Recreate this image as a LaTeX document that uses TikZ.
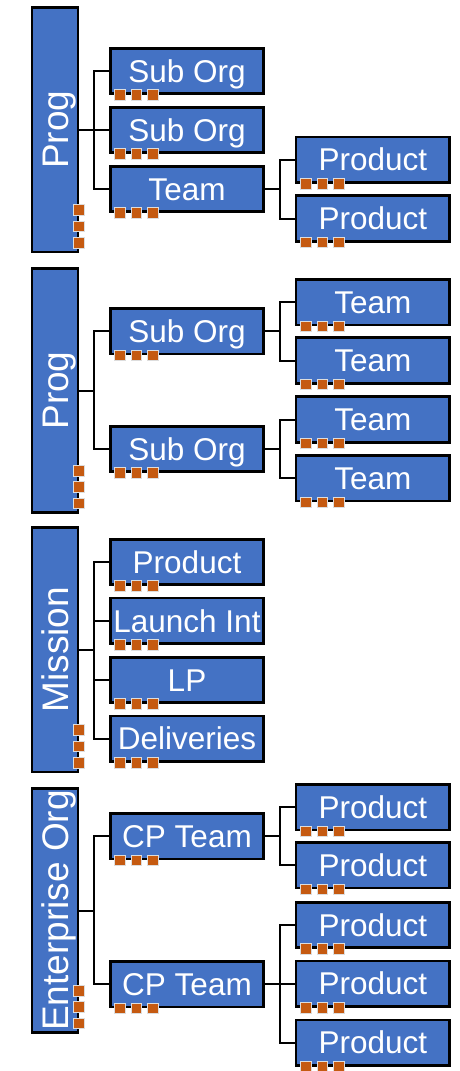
\documentclass[tikz,border=0pt]{standalone}
\usepackage{fontspec}
\setmainfont{Liberation Sans}
\usepackage{xcolor}
\definecolor{OrgBlue}{HTML}{4472C4}
\definecolor{TabOrange}{HTML}{C55A11}
\definecolor{TabEdge}{HTML}{DDDDDD}
\usepackage{tikz}
\usetikzlibrary{calc}

\begin{document}
\begin{tikzpicture}[x=1pt,y=-1pt,
	unit/.style={draw=black,line width=2.6pt,fill=OrgBlue,text=white,inner sep=0pt,minimum width=153.5pt,minimum height=45.5pt,font=\fontsize{31.5}{31.5}\selectfont,text height=22.5pt,text depth=0pt},
	head/.style={unit,rotate=90,minimum width=244.5pt,minimum height=46pt,font=\fontsize{37}{37}\selectfont,text height=26.5pt},
	tab/.style={draw=TabEdge,line width=1pt,fill=TabOrange,minimum size=10.5pt,inner sep=0pt},
	link/.style={line width=2pt,black}]
		\def\colA{187}   % first column
		\def\colB{372.8} % second column
		\def\tabs#1{\foreach \k in {0,1,2} \node[tab] (#1-t\k) at ($(#1.south west)+(11+16.5*\k,0)$) {};}
		\def\sidetabs#1{\foreach \k in {0,1,2} \node[tab] (#1-t\k) at ($(#1.south west)+(-0.5,-10.5-16.4*\k)$) {};}
		
		\useasboundingbox (0,0) rectangle (460,1071);
		
		% Prog
		\node[head] (prog1) at (55,129.7) {Prog};
		\node[unit] (sub1) at (\colA,71) {Sub Org};
		\node[unit] (sub2) at (\colA,130) {Sub Org};
		\node[unit] (team1) at (\colA,189) {Team};
		\node[unit] (prod1) at (\colB,159.7) {Product};
		\node[unit] (prod2) at (\colB,218.5) {Product};
		
		% Prog
		\node[head] (prog2) at (55,390.5) {Prog};
		\node[unit] (sub3) at (\colA,331.3) {Sub Org};
		\node[unit] (sub4) at (\colA,449) {Sub Org};
		\node[unit] (team2) at (\colB,302.2) {Team};
		\node[unit] (team3) at (\colB,360.5) {Team};
		\node[unit] (team4) at (\colB,419.5) {Team};
		\node[unit] (team5) at (\colB,478.2) {Team};
		
		% Mission
		\node[head] (mission) at (55,649.7) {Mission};
		\node[unit] (prod3) at (\colA,562) {Product};
		\node[unit] (launch) at (\colA,620.8) {Launch Int};
		\node[unit] (lp) at (\colA,680) {LP};
		\node[unit] (deliv) at (\colA,738.7) {Deliveries};
		
		% Enterprise Org
		\node[head] (ent) at (55,910.5) {Enterprise Org};
		\node[unit] (cp1) at (\colA,836.3) {CP Team};
		\node[unit] (cp2) at (\colA,984.3) {CP Team};
		\node[unit] (prod4) at (\colB,807.2) {Product};
		\node[unit] (prod5) at (\colB,865.3) {Product};
		\node[unit] (prod6) at (\colB,925) {Product};
		\node[unit] (prod7) at (\colB,983.7) {Product};
		\node[unit] (prod8) at (\colB,1042.7) {Product};
		
		\foreach \c in {sub1,sub2,team1} \draw[link] (prog1.south) -- ++(15,0) |- (\c.west);
		\foreach \c in {prod1,prod2} \draw[link] (team1.east) -- ++(15,0) |- (\c.west);
		\foreach \c in {sub3,sub4} \draw[link] (prog2.south) -- ++(15,0) |- (\c.west);
		\foreach \c in {team2,team3} \draw[link] (sub3.east) -- ++(15,0) |- (\c.west);
		\foreach \c in {team4,team5} \draw[link] (sub4.east) -- ++(15,0) |- (\c.west);
		\foreach \c in {prod3,launch,lp,deliv} \draw[link] (mission.south) -- ++(15,0) |- (\c.west);
		\foreach \c in {cp1,cp2} \draw[link] (ent.south) -- ++(15,0) |- (\c.west);
		\foreach \c in {prod4,prod5} \draw[link] (cp1.east) -- ++(15,0) |- (\c.west);
		\foreach \c in {prod6,prod7,prod8} \draw[link] (cp2.east) -- ++(15,0) |- (\c.west);
		
		\foreach \b in {prog1,prog2,mission,ent} {\sidetabs{\b}}
		\foreach \b in {sub1,sub2,team1,prod1,prod2,sub3,sub4,team2,team3,team4,team5,prod3,launch,lp,deliv,cp1,cp2,prod4,prod5,prod6,prod7,prod8} {\tabs{\b}}
		
	\end{tikzpicture}
\end{document}
